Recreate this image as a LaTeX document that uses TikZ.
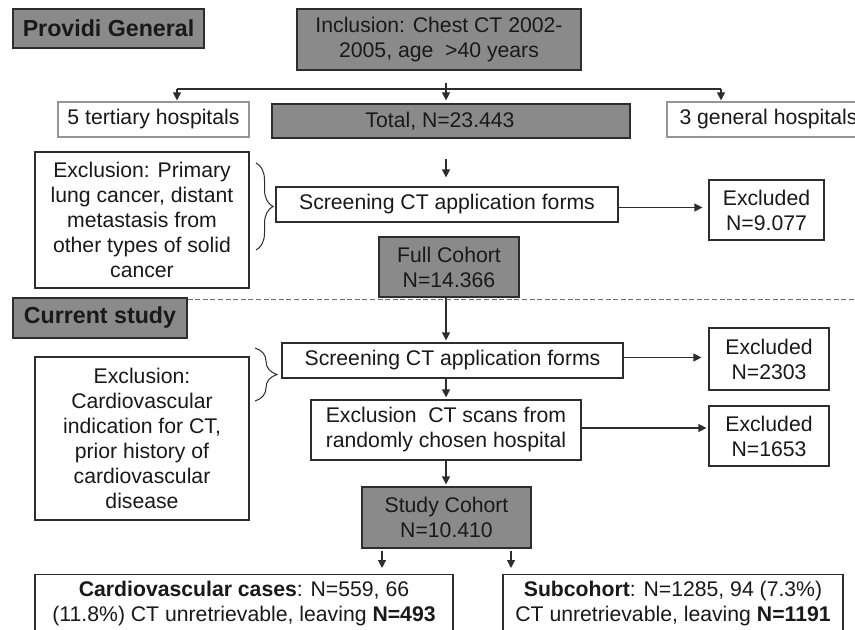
\documentclass[tikz,border=0pt]{standalone}
\usepackage{fontspec}
\setmainfont{Liberation Sans}
\usetikzlibrary{arrows.meta,decorations.pathreplacing}
\definecolor{boxgray}{RGB}{138,138,138}
\definecolor{linec}{RGB}{45,45,45}
\definecolor{lightb}{RGB}{150,150,150}
\definecolor{dashc}{RGB}{110,110,110}
\definecolor{txt}{RGB}{25,25,25}
\pgfdeclarelayer{bg}
\pgfsetlayers{bg,main}
\begin{document}
\begin{tikzpicture}[x=0.5pt,y=-0.5pt,
  font=\fontsize{10.6}{12.5}\selectfont, text=txt,
  box/.style={draw=linec, line width=0.6pt, inner sep=0pt, align=center},
  gbox/.style={box, fill=boxgray},
  lbox/.style={box, draw=lightb},
  hdr/.style={font=\fontsize{11.6}{14}\selectfont\bfseries},
  conn/.style={draw=linec, line width=0.6pt},
  arr/.style={conn, -{Triangle[length=4pt,width=4pt]}},
  brc/.style={draw=linec, line width=0.5pt, decorate},
  sep/.style={draw=dashc, line width=0.6pt, dash pattern=on 2.5pt off 1.3pt}]
\clip (0,0) rectangle (855,630);
\fill[white] (0,0) rectangle (855,630);

% Providi General section
\node[gbox, hdr, minimum width=95.5pt, minimum height=19.5pt] (prov) at (108.5,28.5) {Providi General};
\node[gbox, minimum width=142pt, minimum height=30.5pt] (incl) at (439,39.5) {Inclusion: Chest CT 2002-\\2005, age\ \ >40 years};
\node[lbox, minimum width=95.5pt, minimum height=17.5pt] (tert) at (153.5,119.5) {5 tertiary hospitals};
\node[gbox, minimum width=179pt, minimum height=17pt] (total) at (451,121) {Total, N=23.443\hspace*{11pt}};
\node[lbox, minimum width=101.5pt, minimum height=17.5pt] (gen) at (768.5,119.5) {3 general hospitals};
\node[box, minimum width=107pt, minimum height=68pt] (exc1) at (142,220) {Exclusion: Primary\\lung cancer, distant\\metastasis from\\other types of solid\\cancer};
\node[box, minimum width=171pt, minimum height=17.5pt] (scr1) at (447,204.5) {Screening CT application forms};
\node[box, minimum width=57.5pt, minimum height=30pt] (ex1) at (766.5,210) {Excluded\\N=9.077};
\node[gbox, minimum width=70pt, minimum height=30pt] (full) at (449,267) {Full Cohort\\N=14.366};

% Current study section
\node[gbox, hdr, minimum width=87pt, minimum height=20pt] (cur) at (100,318) {Current study};
\node[box, minimum width=170.5pt, minimum height=17.5pt] (scr2) at (452.5,360.5) {Screening CT application forms};
\node[box, minimum width=60pt, minimum height=31pt] (ex2) at (769,359) {Excluded\\N=2303};
\node[box, minimum width=107pt, minimum height=81.5pt] (exc2) at (142,438.5) {Exclusion:\\Cardiovascular\\indication for CT,\\prior history of\\cardiovascular\\disease};
\node[box, minimum width=135pt, minimum height=30pt] (exct) at (446,430) {Exclusion\ \ CT scans from\\randomly chosen hospital};
\node[box, minimum width=60pt, minimum height=30pt] (ex3) at (769,436) {Excluded\\N=1653};
\node[gbox, minimum width=84.5pt, minimum height=30.5pt] (study) at (446.5,517.5) {Study Cohort\\N=10.410};
\node[box, minimum width=209pt, minimum height=29pt, anchor=north] (cv) at (244,574) {\textbf{Cardiovascular cases}: N=559, 66\\(11.8\%) CT unretrievable, leaving \textbf{N=493}};
\node[box, minimum width=170pt, minimum height=29pt, anchor=north] (sub) at (673,574) {\textbf{Subcohort}: N=1285, 94 (7.3\%)\\CT unretrievable, leaving \textbf{N=1191}};

% spine and branch coordinates
\coordinate (sp) at (446,0);
\coordinate (hL) at (177,89);
\coordinate (hR) at (721,89);

% connectors
\draw[arr, shorten >=1.5pt] ([yshift=-6pt]sp |- incl.south) -- (sp |- total.north);
\draw[conn] (hL) -- (hR);
\draw[arr, shorten >=0.5pt] (hL) -- (hL |- tert.north);
\draw[arr, shorten >=0.5pt] (hR) -- (hR |- gen.north);
\draw[arr, shorten <=10pt, shorten >=4.5pt] (sp |- total.south) -- (sp |- scr1.north);
\begin{pgfonlayer}{bg}
\draw[arr, shorten >=-4pt] (sp |- scr1.south) -- (sp |- full.north);
\end{pgfonlayer}
\draw[arr, shorten >=3pt] ([yshift=-1.5pt]scr1.east) -- ([yshift=-1.5pt]scr1.east -| ex1.west);
\draw[arr, shorten >=1pt] (sp |- full.south) -- (sp |- scr2.north);
\draw[arr, shorten >=3.5pt] ([yshift=1.5pt]scr2.east) -- ([yshift=1.5pt]scr2.east -| ex2.west);
\draw[arr, shorten >=1pt] (sp |- scr2.south) -- (sp |- exct.north);
\draw[arr, shorten >=1pt] ([yshift=1pt]exct.east) -- ([yshift=1pt]exct.east -| ex3.west);
\draw[arr, shorten >=1pt] (sp |- exct.south) -- (sp |- study.north);
\draw[arr, shorten <=1pt, shorten >=3pt] ([xshift=-32.25pt]study.south) -- ([xshift=-32.25pt]study.south |- cv.north);
\draw[arr, shorten <=1pt, shorten >=3pt] ([xshift=32.25pt]study.south) -- ([xshift=32.25pt]study.south |- sub.north);

% braces
\draw[brc, decoration={brace, amplitude=8.5pt}] (256,163) -- (256,250);
\draw[brc, decoration={brace, amplitude=11pt}] (255,348) -- (255,401);

% section separator
\draw[sep] ([yshift=-1pt]cur.north east) -- ++(700,0);
\end{tikzpicture}
\end{document}
